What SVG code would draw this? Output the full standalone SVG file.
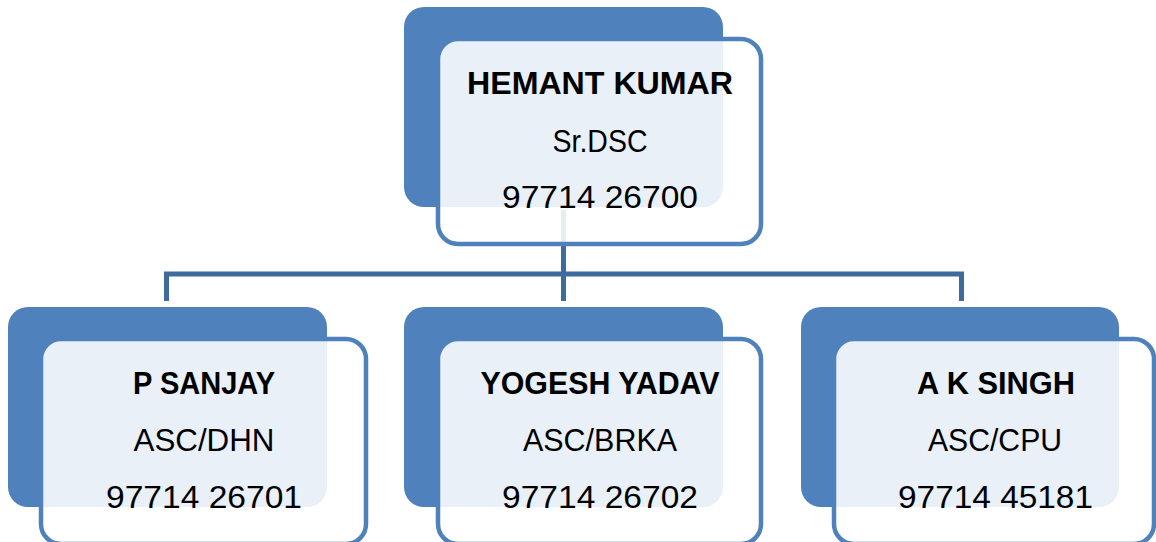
<svg xmlns="http://www.w3.org/2000/svg" width="1156" height="542" viewBox="0 0 1156 542">
<style>
.back{fill:#4F81BD;}
.front{fill:#FFFFFF;fill-opacity:0.88;stroke:#4F81BD;stroke-width:4.5;}
.conn{fill:none;stroke:#3F6A9C;stroke-width:5;}
text{font-family:"Liberation Sans",Arial,sans-serif;fill:#000;text-anchor:middle;}
.name{font-weight:bold;font-size:31px;}
.role{font-size:32px;}
</style>
<rect width="1156" height="542" fill="#FFFFFF"/>
<g id="connectors">
<path class="conn" d="M563.5,210 V274 M166.5,274 H961.5 M166.5,271.5 V301 M563.5,274 V301 M961.5,271.5 V301"/>
</g>
<g id="node-hemant">
<rect class="back" x="404" y="7" width="319" height="200" rx="20"/>
<rect class="front" x="438" y="39" width="323" height="205" rx="20"/>
<text class="name" x="600" y="94" textLength="266" lengthAdjust="spacingAndGlyphs">HEMANT KUMAR</text>
<text class="role" x="600" y="152" textLength="95" lengthAdjust="spacingAndGlyphs">Sr.DSC</text>
<text class="role" x="600" y="208" textLength="196" lengthAdjust="spacingAndGlyphs">97714 26700</text>
</g>
<g id="node-sanjay">
<rect class="back" x="8" y="307" width="319" height="200" rx="20"/>
<rect class="front" x="41" y="339" width="325" height="205" rx="20"/>
<text class="name" x="204" y="394" textLength="142" lengthAdjust="spacingAndGlyphs">P SANJAY</text>
<text class="role" x="204" y="451" textLength="141" lengthAdjust="spacingAndGlyphs">ASC/DHN</text>
<text class="role" x="204" y="508" textLength="196" lengthAdjust="spacingAndGlyphs">97714 26701</text>
</g>
<g id="node-yogesh">
<rect class="back" x="404" y="307" width="319" height="200" rx="20"/>
<rect class="front" x="438" y="339" width="323" height="205" rx="20"/>
<text class="name" x="600" y="394" textLength="239" lengthAdjust="spacingAndGlyphs">YOGESH YADAV</text>
<text class="role" x="600" y="451" textLength="154" lengthAdjust="spacingAndGlyphs">ASC/BRKA</text>
<text class="role" x="600" y="508" textLength="196" lengthAdjust="spacingAndGlyphs">97714 26702</text>
</g>
<g id="node-singh">
<rect class="back" x="801" y="307" width="318" height="200" rx="20"/>
<rect class="front" x="834" y="339" width="320" height="205" rx="20"/>
<text class="name" x="996" y="394" textLength="158" lengthAdjust="spacingAndGlyphs">A K SINGH</text>
<text class="role" x="995" y="451" textLength="134" lengthAdjust="spacingAndGlyphs">ASC/CPU</text>
<text class="role" x="995.5" y="508" textLength="195" lengthAdjust="spacingAndGlyphs">97714 45181</text>
</g>
</svg>
